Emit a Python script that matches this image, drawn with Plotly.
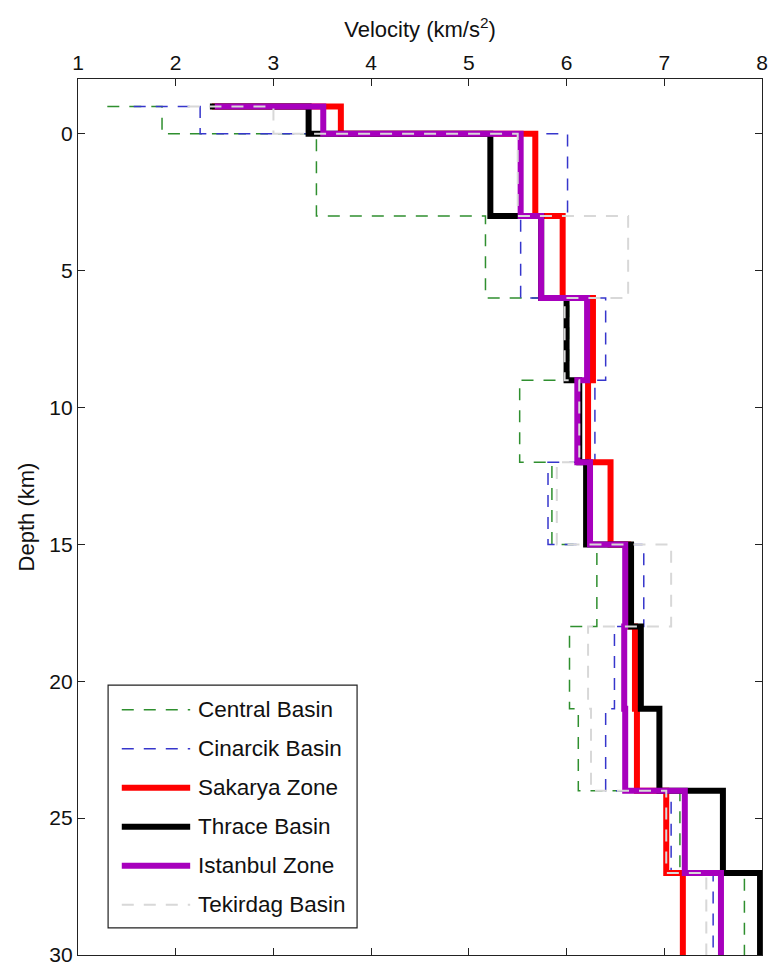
import plotly.graph_objects as go

# Layer-top depths (km); each velocity entry after the first is the P-wave
# velocity of the layer that starts at the previous depth.
depth_km = [-1, 0, 3, 6, 9, 12, 15, 18, 21, 24, 27, 30]

central_basin = [1.30, 1.86, 3.44, 5.17, 6.02, 5.52, 5.85, 6.31, 6.03, 6.12, 7.16, 7.82]
cinarcik_basin = [1.57, 2.25, 6.01, 5.53, 6.40, 6.29, 5.81, 6.79, 6.49, 6.40, 7.07, 7.50]
sakarya_zone = [2.37, 3.69, 5.68, 5.96, 6.27, 6.22, 6.45, 6.63, 6.70, 6.72, 7.02, 7.19]
thrace_basin = [2.35, 3.36, 5.22, 5.74, 6.00, 6.13, 6.20, 6.66, 6.76, 6.95, 7.60, 7.98]
istanbul_zone = [2.40, 3.51, 5.53, 5.74, 6.21, 6.11, 6.24, 6.60, 6.59, 6.60, 7.21, 7.58]
tekirdag_basin = [2.12, 3.00, 5.50, 6.63, 5.98, 6.13, 5.90, 7.07, 6.22, 6.25, 7.02, 7.43]

x_ticks = [1, 2, 3, 4, 5, 6, 7, 8]
y_ticks = [0, 5, 10, 15, 20, 25, 30]

DASH = "12px,10px"
series = [
    ("Central Basin", central_basin, "#2f8f2f", 1.5, DASH),
    ("Cinarcik Basin", cinarcik_basin, "#3636cc", 1.5, DASH),
    ("Sakarya Zone", sakarya_zone, "#ff0000", 6, "solid"),
    ("Thrace Basin", thrace_basin, "#000000", 6, "solid"),
    ("Istanbul Zone", istanbul_zone, "#a700bd", 6, "solid"),
    ("Tekirdag Basin", tekirdag_basin, "#d8d8d8", 2, DASH),
]

FONT = "Liberation Sans, Arial, Helvetica, sans-serif"

fig = go.Figure()
for name, vel, color, width, dash in series:
    fig.add_trace(
        go.Scatter(
            x=vel,
            y=depth_km,
            mode="lines",
            name=name,
            showlegend=False,
            line=dict(shape="hv", color=color, width=width, dash=dash),
        )
    )

# Boxed key in the lower-left corner of the axes (paper coordinates),
# with long line samples in the MATLAB style.
KEY_X0, KEY_X1 = 0.044, 0.408
KEY_Y0, KEY_Y1 = 0.031, 0.308
SAMPLE_X0, SAMPLE_X1 = 0.064, 0.164
LABEL_X = 0.172
ROW_TOP, ROW_STEP = 0.280, 0.0445

shapes = [
    dict(type="rect", xref="paper", yref="paper",
         x0=KEY_X0, x1=KEY_X1, y0=KEY_Y0, y1=KEY_Y1,
         line=dict(color="#222", width=1.2), fillcolor="white", layer="above")
]
annotations = []
for i, (name, _vel, color, width, dash) in enumerate(series):
    yy = ROW_TOP - i * ROW_STEP
    shapes.append(dict(type="line", xref="paper", yref="paper",
                       x0=SAMPLE_X0, x1=SAMPLE_X1, y0=yy, y1=yy, layer="above",
                       line=dict(color=color, width=width, dash=dash)))
    annotations.append(dict(xref="paper", yref="paper", x=LABEL_X, y=yy,
                            xanchor="left", yanchor="middle", showarrow=False,
                            text=name, font=dict(family=FONT, size=22.5, color="#111")))

axis_common = dict(
    ticks="inside",
    ticklen=7,
    tickwidth=1.2,
    tickcolor="#222",
    showline=True,
    linecolor="#222",
    linewidth=1.2,
    mirror="allticks",
    showgrid=False,
    zeroline=False,
    automargin=False,
    tickfont=dict(family=FONT, size=21, color="#111"),
)

fig.update_layout(
    width=768,
    height=965,
    margin=dict(l=78, r=6, t=79, b=10),
    paper_bgcolor="white",
    plot_bgcolor="white",
    font=dict(family=FONT, color="#111"),
    showlegend=False,
    shapes=shapes,
    annotations=annotations,
    xaxis=dict(
        side="top",
        range=[1, 8],
        tickvals=x_ticks,
        title=dict(text="Velocity (km/s<sup>2</sup>)", font=dict(size=22), standoff=6),
        **axis_common,
    ),
    yaxis=dict(
        range=[30, -2],
        tickvals=y_ticks,
        ticklabeloverflow="allow",
        title=dict(text="Depth (km)", font=dict(size=22), standoff=8),
        **axis_common,
    ),
)

fig.write_html("out.html")
